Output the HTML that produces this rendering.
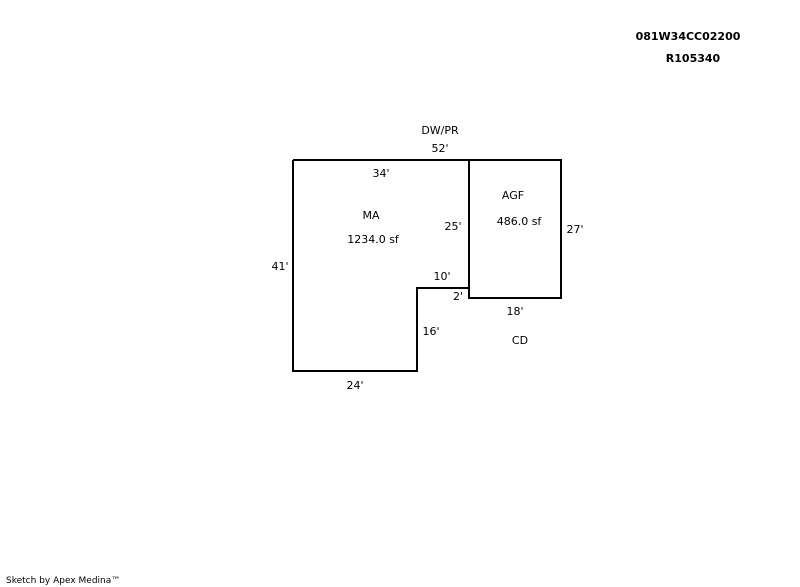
<!DOCTYPE html>
<html><head><meta charset="utf-8"><style>
html,body{margin:0;padding:0;background:#fff;}
svg{display:block;}
text{font-family:"DejaVu Sans","Liberation Sans",sans-serif;font-size:11px;fill:#000;}
.b{font-weight:bold;font-size:11px;}
</style></head><body>
<svg width="800" height="587" viewBox="0 0 800 587">
<polyline points="293,160 469,160 469,288 417,288 417,371 293,371 293,160" fill="none" stroke="#000" stroke-width="2"/>
<rect x="469" y="160" width="92" height="138" fill="none" stroke="#000" stroke-width="2"/>
<text class="b" x="688" y="40" text-anchor="middle">081W34CC02200</text>
<text class="b" x="693" y="62" text-anchor="middle">R105340</text>
<text x="440" y="134" text-anchor="middle">DW/PR</text>
<text x="440" y="152" text-anchor="middle">52'</text>
<text x="381" y="177" text-anchor="middle">34'</text>
<text x="371" y="219" text-anchor="middle">MA</text>
<text x="373" y="243" text-anchor="middle">1234.0 sf</text>
<text x="453" y="230" text-anchor="middle">25'</text>
<text x="513" y="199" text-anchor="middle">AGF</text>
<text x="519" y="225" text-anchor="middle">486.0 sf</text>
<text x="575" y="233" text-anchor="middle">27'</text>
<text x="280" y="270" text-anchor="middle">41'</text>
<text x="442" y="280" text-anchor="middle">10'</text>
<text x="458" y="300" text-anchor="middle">2'</text>
<text x="515" y="315" text-anchor="middle">18'</text>
<text x="431" y="335" text-anchor="middle">16'</text>
<text x="520" y="344" text-anchor="middle">CD</text>
<text x="355" y="389" text-anchor="middle">24'</text>
<text x="6" y="583" style="font-size:9px">Sketch by Apex Medina™</text>
</svg>
</body></html>
